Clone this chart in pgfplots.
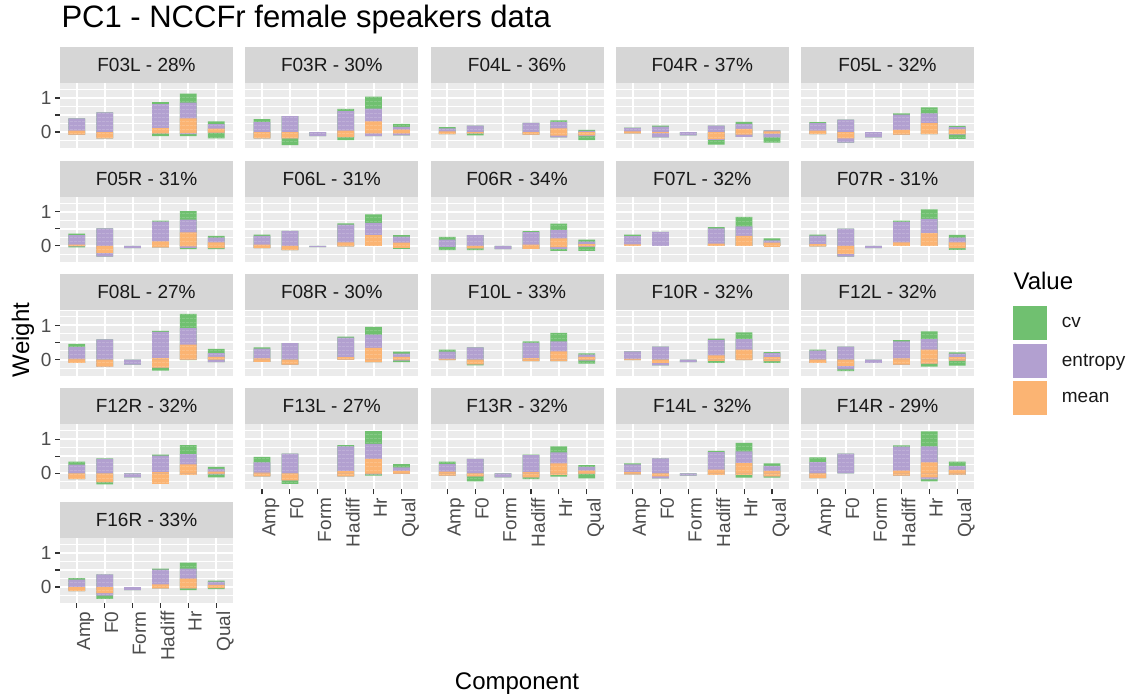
\documentclass[border=0pt]{standalone}
\usepackage{pgfplots}
\pgfplotsset{compat=1.18}
\usepackage{pgfplotstable}
\usetikzlibrary{patterns.meta}
\usepackage{fontspec}
\setmainfont{Liberation Sans}

\definecolor{cvgreen}{HTML}{70C070}
\definecolor{entpurple}{HTML}{B2A0D0}
\definecolor{meanorange}{HTML}{FBB473}
\definecolor{panelbg}{HTML}{EBEBEB}
\definecolor{stripbg}{HTML}{D6D6D6}
\definecolor{axtext}{HTML}{4D4D4D}

\newcommand\fsmall{\fontsize{19}{22}\selectfont}
\newcommand\fbase{\fontsize{24}{28}\selectfont}
\newcommand\ftitle{\fontsize{31}{36}\selectfont}

% columns: gp/pp/op = top of cv/entropy/mean (positive stack),
%          on/pn/gn = bottom of mean/entropy/cv (negative stack)
\pgfplotstableread{
x gp pp op on pn gn
1 0.40 0.40 0.04 -0.08 -0.08 -0.08
2 0.58 0.58 0 -0.19 -0.19 -0.19
3 0 0 0 0 0 0
4 0.875 0.82 0.115 -0.04 -0.04 -0.12
5 1.125 0.865 0.40 -0.03 -0.06 -0.12
6 0.31 0.23 0.10 -0.02 -0.02 -0.19
}\dA
\pgfplotstableread{
x gp pp op on pn gn
1 0.375 0.29 0 -0.19 -0.19 -0.19
2 0.47 0.47 0 -0.19 -0.19 -0.385
3 0 0 0 0 -0.12 -0.12
4 0.68 0.615 0.04 -0.15 -0.15 -0.24
5 1.04 0.69 0.31 -0.04 -0.12 -0.12
6 0.24 0.15 0.07 -0.04 -0.10 -0.10
}\dB
\pgfplotstableread{
x gp pp op on pn gn
1 0.14 0.11 0.02 -0.06 -0.06 -0.06
2 0.19 0.19 0 -0.04 -0.04 -0.10
3 0 0 0 0 0 0
4 0.27 0.27 0 -0.08 -0.08 -0.08
5 0.34 0.29 0.11 -0.11 -0.16 -0.16
6 0.06 0.03 0 -0.10 -0.12 -0.24
}\dC
\pgfplotstableread{
x gp pp op on pn gn
1 0.13 0.12 0.02 -0.04 -0.04 -0.04
2 0.19 0.16 0 -0.03 -0.16 -0.16
3 0 0 0 0 -0.10 -0.10
4 0.19 0.19 0 -0.21 -0.23 -0.37
5 0.30 0.24 0.09 -0.08 -0.14 -0.14
6 0.05 0.05 0.02 -0.05 -0.16 -0.31
}\dD
\pgfplotstableread{
x gp pp op on pn gn
1 0.29 0.26 0.04 -0.06 -0.06 -0.06
2 0.365 0.365 0 -0.19 -0.31 -0.31
3 0 0 0 0 -0.16 -0.16
4 0.55 0.51 0.06 -0.08 -0.08 -0.08
5 0.72 0.55 0.26 -0.06 -0.06 -0.06
6 0.18 0.14 0.08 -0.06 -0.08 -0.20
}\dE
\pgfplotstableread{
x gp pp op on pn gn
1 0.36 0.31 0.03 -0.01 -0.02 -0.05
2 0.51 0.51 0 -0.21 -0.32 -0.32
3 0 0 0 0 -0.07 -0.07
4 0.74 0.71 0.13 -0.05 -0.05 -0.05
5 1.02 0.77 0.39 -0.02 -0.06 -0.10
6 0.29 0.24 0.10 -0.07 -0.07 -0.10
}\dF
\pgfplotstableread{
x gp pp op on pn gn
1 0.33 0.29 0.03 -0.07 -0.07 -0.07
2 0.44 0.44 0 -0.13 -0.13 -0.13
3 0 0 0 0 -0.04 -0.04
4 0.66 0.62 0.10 -0.02 -0.02 -0.02
5 0.92 0.67 0.31 0 0 0
6 0.31 0.27 0.09 -0.06 -0.06 -0.09
}\dG
\pgfplotstableread{
x gp pp op on pn gn
1 0.26 0.18 0 0 -0.03 -0.13
2 0.31 0.31 0 -0.08 -0.08 -0.13
3 0 0 0 0 -0.10 -0.10
4 0.43 0.40 0.03 -0.09 -0.09 -0.09
5 0.65 0.46 0.22 -0.04 -0.09 -0.15
6 0.18 0.12 0.05 -0.02 -0.03 -0.15
}\dH
\pgfplotstableread{
x gp pp op on pn gn
1 0.33 0.28 0.04 0 0 0
2 0.41 0.41 0 0 0 0
3 0 0 0 0 0 0
4 0.55 0.51 0.06 0 0 0
5 0.85 0.57 0.29 0 0 0
6 0.22 0.16 0.09 -0.01 -0.01 -0.01
}\dI
\pgfplotstableread{
x gp pp op on pn gn
1 0.33 0.30 0.05 -0.02 -0.02 -0.02
2 0.50 0.50 0 -0.24 -0.32 -0.32
3 0 0 0 0 -0.07 -0.07
4 0.74 0.70 0.10 0 0 0
5 1.07 0.79 0.37 0 0 0
6 0.32 0.24 0.10 -0.07 -0.07 -0.12
}\dJ
\pgfplotstableread{
x gp pp op on pn gn
1 0.46 0.37 0.02 -0.10 -0.10 -0.10
2 0.59 0.59 0 -0.21 -0.21 -0.21
3 0 0 0 0 -0.15 -0.15
4 0.84 0.81 0.04 -0.24 -0.24 -0.33
5 1.34 0.92 0.44 0 0 -0.02
6 0.31 0.19 0.08 0 -0.08 -0.08
}\dK
\pgfplotstableread{
x gp pp op on pn gn
1 0.36 0.32 0.03 -0.07 -0.07 -0.07
2 0.48 0.48 0 -0.15 -0.15 -0.15
3 0 0 0 0 0 0
4 0.67 0.64 0.07 0 0 0
5 0.96 0.73 0.34 -0.08 -0.08 -0.08
6 0.23 0.17 0.08 -0.02 -0.03 -0.08
}\dL
\pgfplotstableread{
x gp pp op on pn gn
1 0.29 0.23 0.02 -0.02 -0.02 -0.02
2 0.36 0.36 0 -0.14 -0.14 -0.17
3 0 0 0 0 0 0
4 0.53 0.49 0.04 -0.05 -0.05 -0.05
5 0.78 0.53 0.24 -0.05 -0.05 -0.05
6 0.18 0.14 0.08 -0.02 -0.03 -0.12
}\dM
\pgfplotstableread{
x gp pp op on pn gn
1 0.24 0.24 0.02 -0.02 -0.02 -0.02
2 0.38 0.38 0 -0.10 -0.17 -0.17
3 0 0 0 0 -0.08 -0.08
4 0.61 0.58 0.12 -0.04 -0.04 -0.10
5 0.80 0.60 0.29 -0.02 -0.02 -0.02
6 0.22 0.19 0.07 -0.05 -0.05 -0.10
}\dN
\pgfplotstableread{
x gp pp op on pn gn
1 0.29 0.26 0 -0.10 -0.10 -0.10
2 0.38 0.38 0 -0.19 -0.29 -0.34
3 0 0 0 0 -0.10 -0.10
4 0.57 0.53 0.03 -0.15 -0.15 -0.15
5 0.83 0.60 0.29 -0.12 -0.12 -0.21
6 0.21 0.17 0.07 -0.03 -0.03 -0.18
}\dO
\pgfplotstableread{
x gp pp op on pn gn
1 0.34 0.25 0 -0.17 -0.17 -0.17
2 0.44 0.42 0 -0.26 -0.26 -0.33
3 0 0 0 0 -0.12 -0.12
4 0.55 0.52 0.03 -0.31 -0.31 -0.31
5 0.83 0.56 0.26 -0.05 -0.05 -0.05
6 0.19 0.13 0.05 -0.02 -0.03 -0.12
}\dP
\pgfplotstableread{
x gp pp op on pn gn
1 0.48 0.32 0.02 -0.09 -0.09 -0.09
2 0.58 0.58 0 -0.21 -0.21 -0.31
3 0 0 0 0 0 0
4 0.83 0.79 0.06 -0.09 -0.09 -0.09
5 1.24 0.86 0.42 -0.02 -0.03 -0.07
6 0.27 0.17 0.07 -0.02 -0.02 -0.02
}\dQ
\pgfplotstableread{
x gp pp op on pn gn
1 0.34 0.27 0.05 -0.07 -0.07 -0.07
2 0.42 0.42 0 -0.09 -0.09 -0.24
3 0 0 0 0 -0.12 -0.12
4 0.55 0.53 0.03 -0.12 -0.12 -0.17
5 0.79 0.61 0.29 -0.05 -0.05 -0.10
6 0.24 0.19 0.08 -0.02 -0.02 -0.15
}\dR
\pgfplotstableread{
x gp pp op on pn gn
1 0.29 0.26 0.03 -0.03 -0.03 -0.03
2 0.44 0.44 0 -0.09 -0.15 -0.15
3 0 0 0 0 -0.07 -0.07
4 0.66 0.62 0.11 -0.05 -0.05 -0.05
5 0.89 0.64 0.30 -0.05 -0.05 -0.13
6 0.29 0.22 0.07 -0.09 -0.09 -0.13
}\dS
\pgfplotstableread{
x gp pp op on pn gn
1 0.47 0.33 0 -0.14 -0.14 -0.14
2 0.58 0.58 0 0 0 0
3 0 0 0 0 0 0
4 0.82 0.78 0.08 -0.07 -0.07 -0.07
5 1.23 0.79 0.32 -0.12 -0.18 -0.24
6 0.34 0.22 0.10 -0.04 -0.04 -0.05
}\dT
\pgfplotstableread{
x gp pp op on pn gn
1 0.26 0.22 0 -0.12 -0.12 -0.12
2 0.37 0.37 0 -0.18 -0.25 -0.35
3 0 0 0 0 -0.09 -0.09
4 0.54 0.51 0.08 -0.04 -0.04 -0.04
5 0.72 0.54 0.25 -0.04 -0.04 -0.09
6 0.19 0.16 0.06 -0.03 -0.03 -0.06
}\dU

\pgfplotsset{
  facet/.style={
    scale only axis, width=173pt, height=65pt, anchor=north west,
    xmin=0.4, xmax=6.6, ymin=-0.47, ymax=1.44,
    axis background/.style={fill=panelbg},
    axis line style={draw=none},
    xtick={1,2,3,4,5,6}, ytick={0,0.5,1},
    minor ytick={-0.25,0.25,0.75,1.25},
    grid=both,
    major grid style={white, line width=2pt},
    minor grid style={white, line width=1pt},
    tick align=outside, tick pos=left,
    major tick length=5pt, minor tick length=0pt,
    tick style={line width=1.1pt, color=black!80},
    xtick style={draw=none}, ytick style={draw=none},
    xticklabels={}, yticklabels={},
    ticklabel style={font=\fsmall, text=axtext},
    xticklabel style={rotate=90, anchor=north east, inner ysep=0pt},
    every axis title/.style={at={(0.5,1)}, anchor=south, fill=stripbg,
      minimum width=173pt, minimum height=36pt, inner sep=0pt,
      font=\fsmall, text=black!90},
  },
  xon/.style={xticklabels={Amp,F0,Form,Hadiff,Hr,Qual}, xtick style={draw=black!80}},
  yon/.style={yticklabels={0,,1}, ytick style={draw=black!80}},
  barbase/.style={ybar, bar width=0.6, bar shift=0pt, draw=none,
    y filter/.expression={abs(y)<0.001 ? nan : y}, unbounded coords=discard},
  gbar/.style={barbase, fill=cvgreen,
    postaction={pattern={Lines[angle=0,distance=4pt,line width=0.3pt]}, pattern color=cvgreen!55!white}},
  pbar/.style={barbase, fill=entpurple,
    postaction={pattern={Lines[angle=0,distance=4pt,line width=0.3pt]}, pattern color=entpurple!55!white}},
  obar/.style={barbase, fill=meanorange,
    postaction={pattern={Lines[angle=0,distance=4pt,line width=0.3pt]}, pattern color=meanorange!55!white}},
}

\newcommand\panel[5]{%
\begin{axis}[facet, at={(#1pt,#2pt)}, title={#3}, #5]
\addplot[gbar] table[x=x, y=gp] {#4};
\addplot[gbar] table[x=x, y=gn] {#4};
\addplot[pbar] table[x=x, y=pp] {#4};
\addplot[pbar] table[x=x, y=pn] {#4};
\addplot[obar] table[x=x, y=op] {#4};
\addplot[obar] table[x=x, y=on] {#4};
\end{axis}}

\begin{document}
\begin{tikzpicture}
\useasboundingbox (0,0) rectangle (1129pt,697pt);

\panel{60}{614}{F03L - 28\%}{\dA}{yon}
\panel{245.25}{614}{F03R - 30\%}{\dB}{}
\panel{430.5}{614}{F04L - 36\%}{\dC}{}
\panel{615.75}{614}{F04R - 37\%}{\dD}{}
\panel{801}{614}{F05L - 32\%}{\dE}{}

\panel{60}{500.25}{F05R - 31\%}{\dF}{yon}
\panel{245.25}{500.25}{F06L - 31\%}{\dG}{}
\panel{430.5}{500.25}{F06R - 34\%}{\dH}{}
\panel{615.75}{500.25}{F07L - 32\%}{\dI}{}
\panel{801}{500.25}{F07R - 31\%}{\dJ}{}

\panel{60}{386.5}{F08L - 27\%}{\dK}{yon}
\panel{245.25}{386.5}{F08R - 30\%}{\dL}{}
\panel{430.5}{386.5}{F10L - 33\%}{\dM}{}
\panel{615.75}{386.5}{F10R - 32\%}{\dN}{}
\panel{801}{386.5}{F12L - 32\%}{\dO}{}

\panel{60}{272.75}{F12R - 32\%}{\dP}{yon}
\panel{245.25}{272.75}{F13L - 27\%}{\dQ}{xon}
\panel{430.5}{272.75}{F13R - 32\%}{\dR}{xon}
\panel{615.75}{272.75}{F14L - 32\%}{\dS}{xon}
\panel{801}{272.75}{F14R - 29\%}{\dT}{xon}

\panel{60}{159}{F16R - 33\%}{\dU}{xon,yon}

% legend
\begin{axis}[at={(1012pt,392pt)}, anchor=north west, scale only axis,
  width=10pt, height=10pt, hide axis, xmin=0, xmax=1, ymin=0, ymax=1,
  legend style={at={(0,1)}, anchor=north west, draw=none, fill=none,
    inner sep=0pt, row sep=1.5pt, font=\fsmall, text=black!90},
  legend cell align=left,
  legend image code/.code={\draw[#1, draw=white, line width=1pt] (0pt,-17.5pt) rectangle (35pt,17.5pt); \path (47pt,0pt);}]
\addlegendimage{fill=cvgreen}
\addlegendentry{cv}
\addlegendimage{fill=entpurple}
\addlegendentry{entropy}
\addlegendimage{fill=meanorange}
\addlegendentry{mean}
\end{axis}

\node[anchor=base west, font=\fbase] at (1010pt,407pt) {Value};
\node[anchor=base west, font=\ftitle] at (58pt,669pt) {PC1 - NCCFr female speakers data};
\node[rotate=90, anchor=base, font=\fbase] at (29pt,357pt) {Weight};
\node[anchor=base, font=\fbase] at (517pt,8pt) {Component};
\end{tikzpicture}
\end{document}
